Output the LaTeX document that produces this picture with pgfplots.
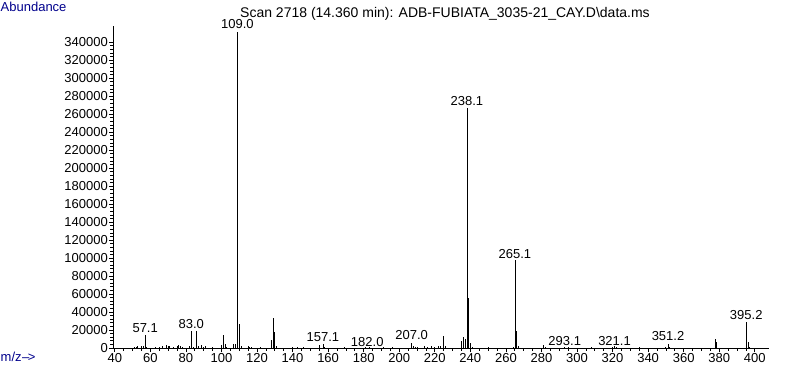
\documentclass[border=0pt]{standalone}
\usepackage{fontspec}
\setmainfont{Liberation Sans}
\usepackage{pgfplots}
\pgfplotsset{compat=1.18}
\definecolor{navyblue}{RGB}{0,0,140}

\pgfplotstableread{
mz  ab
51 1500
52 1200
53 2000
55 2500
56 1800
57.1 14400
58 1500
63 1500
65 1200
67 2000
69 3000
70 2500
71 2000
73 1500
75 2000
76 3000
77 2500
78 1500
82 1800
83.0 19200
84 1500
86 19200
87 1800
89 3000
90 1500
91 2000
95 1200
100 3000
101 14400
102 4000
103 1500
106.5 4500
108 4500
109.0 351000
110 27000
111 2500
115 2000
116 1500
117 1500
122 1500
128 9000
129 33500
130 18000
131 2000
140 1000
143 1200
146 1200
155 3300
157.1 4400
158 1500
169 1000
181 1200
183 1500
191 1200
196 1000
207.0 5900
208 2500
209 1500
210 1500
214 1800
216 1500
218 1800
220 1500
222 2000
223 2500
225 13300
226 2000
235 7800
236 12500
237 9500
238.1 266700
239 55500
240 5500
241 1500
250 1000
264 1500
265.1 98000
266 18500
267 2000
281 3300
282 1200
293 1500
295 1000
308 1000
320 1500
321 2000
322 1000
335 1000
350 1500
351.2 4400
352 1500
377.6 9600
378.5 6300
395.2 29000
396.2 7000
397 1500
}\spectrum

\begin{document}
\begin{tikzpicture}
\path[use as bounding box] (-113pt,-19pt) rectangle (674pt,348pt);
\begin{axis}[
  scale only axis, width=656pt, height=322pt,
  xmin=39, xmax=408, ymin=0, ymax=358000,
  axis lines=left, axis line style={-, line width=0.8pt},
  xtick={40,60,...,400}, minor x tick num=3,
  ytick={0,20000,...,340000}, minor y tick num=4,
  tick align=outside, major tick length=4pt, minor tick length=2.5pt,
  tick style={black, line width=0.7pt},
  scaled y ticks=false,
  yticklabel style={/pgf/number format/fixed, /pgf/number format/1000 sep={}, inner sep=1pt},
  xticklabel style={inner sep=1pt},
  /pgf/number format/assume math mode=true,
  tick label style={font=\fontsize{13}{14}\selectfont},
  clip=false,
]
\addplot[ycomb, black, line width=0.9pt, no marks] table[x=mz, y=ab] {\spectrum};
\begin{scope}[every node/.style={anchor=base, font=\fontsize{13}{14}\selectfont, inner sep=0pt}]
\node at (axis cs:57.1,17200) {57.1};
\node at (axis cs:83.0,21900) {83.0};
\node at (axis cs:109.0,355000) {109.0};
\node at (axis cs:157.1,7000) {157.1};
\node at (axis cs:182.0,1400) {182.0};
\node at (axis cs:207.0,8900) {207.0};
\node at (axis cs:238.1,270000) {238.1};
\node at (axis cs:265.1,99700) {265.1};
\node at (axis cs:293.1,3300) {293.1};
\node at (axis cs:321.1,3300) {321.1};
\node at (axis cs:351.2,8100) {351.2};
\node at (axis cs:395.2,31900) {395.2};
\end{scope}
\end{axis}
\node[anchor=base west, inner sep=0pt, font=\fontsize{14}{15}\selectfont] at (127pt,330pt) {Scan 2718 (14.360 min): ADB-FUBIATA\_3035-21\_CAY.D\textbackslash data.ms};
\node[anchor=north west, inner sep=0pt, text=navyblue, font=\fontsize{13}{14}\selectfont] at (-112.5pt,346.5pt) {Abundance};
\node[anchor=west, inner sep=0pt, text=navyblue, font=\fontsize{13}{14}\selectfont] at (-112.5pt,-9pt) {m/z\kern0.5pt\textendash\kern-1.5pt\textgreater};
\end{tikzpicture}
\end{document}
